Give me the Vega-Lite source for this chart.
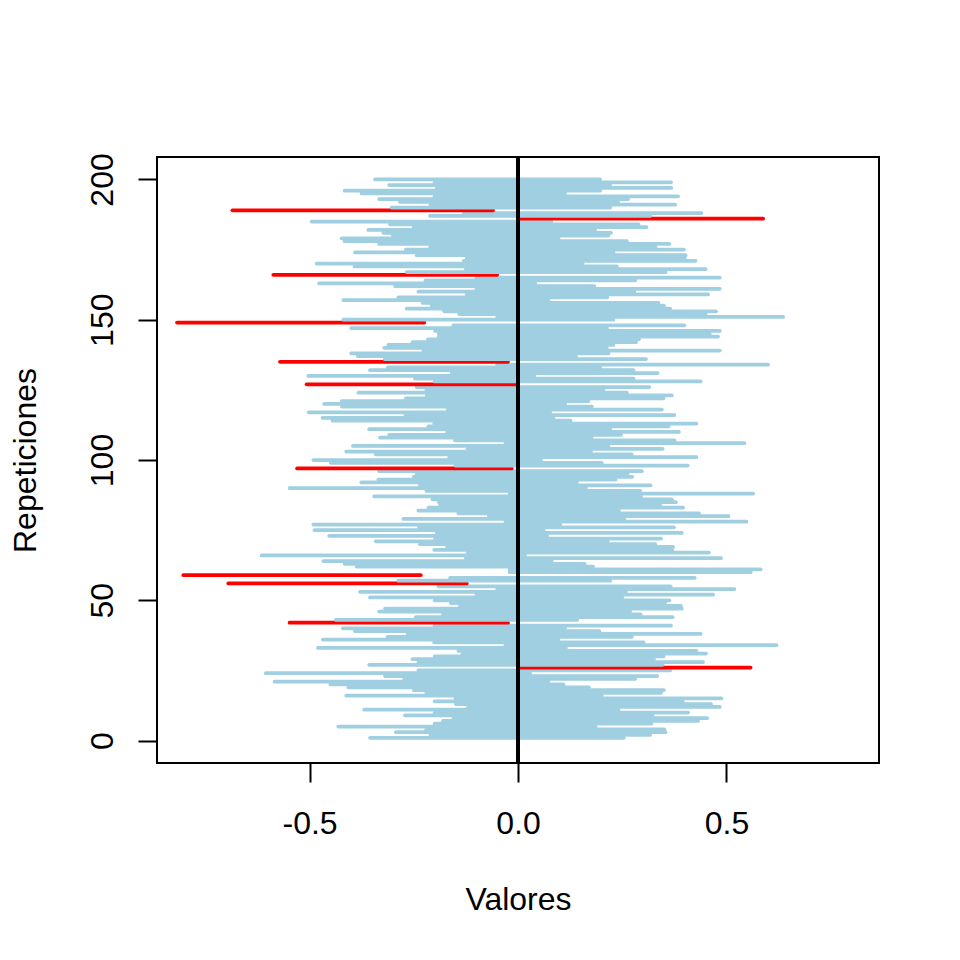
{
"$schema": "https://vega.github.io/schema/vega-lite/v6.json",
"width": 722, "height": 606,
"autosize": "none",
"padding": {"left": 157, "top": 157, "right": 81, "bottom": 197},
"background": "white",
"config": {
  "view": {"stroke": "black", "strokeWidth": 2},
  "font": "Liberation Sans",
  "axis": {"domain": false, "grid": false, "tickColor": "black", "tickWidth": 2, "tickSize": 19,
           "labelFont": "Liberation Sans", "labelFontSize": 32, "labelColor": "black",
           "titleFont": "Liberation Sans", "titleFontSize": 32, "titleFontWeight": "normal", "titleColor": "black"}
},
"data": {"values": [
{"rep":1,"inf":-0.355,"sup":0.254,"cubre":"si"},
{"rep":2,"inf":-0.21,"sup":0.317,"cubre":"si"},
{"rep":3,"inf":-0.293,"sup":0.354,"cubre":"si"},
{"rep":4,"inf":-0.22,"sup":0.351,"cubre":"si"},
{"rep":5,"inf":-0.431,"sup":0.186,"cubre":"si"},
{"rep":6,"inf":-0.2,"sup":0.32,"cubre":"si"},
{"rep":7,"inf":-0.18,"sup":0.432,"cubre":"si"},
{"rep":8,"inf":-0.155,"sup":0.454,"cubre":"si"},
{"rep":9,"inf":-0.271,"sup":0.323,"cubre":"si"},
{"rep":10,"inf":-0.2,"sup":0.408,"cubre":"si"},
{"rep":11,"inf":-0.369,"sup":0.241,"cubre":"si"},
{"rep":12,"inf":-0.12,"sup":0.484,"cubre":"si"},
{"rep":13,"inf":-0.149,"sup":0.463,"cubre":"si"},
{"rep":14,"inf":-0.2,"sup":0.395,"cubre":"si"},
{"rep":15,"inf":-0.15,"sup":0.488,"cubre":"si"},
{"rep":16,"inf":-0.412,"sup":0.201,"cubre":"si"},
{"rep":17,"inf":-0.22,"sup":0.343,"cubre":"si"},
{"rep":18,"inf":-0.25,"sup":0.35,"cubre":"si"},
{"rep":19,"inf":-0.407,"sup":0.17,"cubre":"si"},
{"rep":20,"inf":-0.45,"sup":0.109,"cubre":"si"},
{"rep":21,"inf":-0.584,"sup":0.073,"cubre":"si"},
{"rep":22,"inf":-0.273,"sup":0.281,"cubre":"si"},
{"rep":23,"inf":-0.319,"sup":0.334,"cubre":"si"},
{"rep":24,"inf":-0.605,"sup":0.029,"cubre":"si"},
{"rep":25,"inf":-0.239,"sup":0.365,"cubre":"si"},
{"rep":26,"inf":0.005,"sup":0.558,"cubre":"no"},
{"rep":27,"inf":-0.357,"sup":0.347,"cubre":"si"},
{"rep":28,"inf":-0.239,"sup":0.444,"cubre":"si"},
{"rep":29,"inf":-0.253,"sup":0.326,"cubre":"si"},
{"rep":30,"inf":-0.2,"sup":0.349,"cubre":"si"},
{"rep":31,"inf":-0.133,"sup":0.451,"cubre":"si"},
{"rep":32,"inf":-0.143,"sup":0.428,"cubre":"si"},
{"rep":33,"inf":-0.48,"sup":0.115,"cubre":"si"},
{"rep":34,"inf":-0.03,"sup":0.62,"cubre":"si"},
{"rep":35,"inf":-0.201,"sup":0.301,"cubre":"si"},
{"rep":36,"inf":-0.468,"sup":0.097,"cubre":"si"},
{"rep":37,"inf":-0.313,"sup":0.273,"cubre":"si"},
{"rep":38,"inf":-0.265,"sup":0.438,"cubre":"si"},
{"rep":39,"inf":-0.391,"sup":0.195,"cubre":"si"},
{"rep":40,"inf":-0.42,"sup":0.113,"cubre":"si"},
{"rep":41,"inf":-0.2,"sup":0.367,"cubre":"si"},
{"rep":42,"inf":-0.548,"sup":-0.024,"cubre":"no"},
{"rep":43,"inf":-0.437,"sup":0.142,"cubre":"si"},
{"rep":44,"inf":-0.245,"sup":0.371,"cubre":"si"},
{"rep":45,"inf":-0.18,"sup":0.294,"cubre":"si"},
{"rep":46,"inf":-0.333,"sup":0.269,"cubre":"si"},
{"rep":47,"inf":-0.319,"sup":0.393,"cubre":"si"},
{"rep":48,"inf":-0.139,"sup":0.391,"cubre":"si"},
{"rep":49,"inf":-0.161,"sup":0.353,"cubre":"si"},
{"rep":50,"inf":-0.2,"sup":0.363,"cubre":"si"},
{"rep":51,"inf":-0.355,"sup":0.25,"cubre":"si"},
{"rep":52,"inf":-0.1,"sup":0.468,"cubre":"si"},
{"rep":53,"inf":-0.379,"sup":0.259,"cubre":"si"},
{"rep":54,"inf":-0.05,"sup":0.519,"cubre":"si"},
{"rep":55,"inf":-0.191,"sup":0.366,"cubre":"si"},
{"rep":56,"inf":-0.695,"sup":-0.123,"cubre":"no"},
{"rep":57,"inf":-0.287,"sup":0.221,"cubre":"si"},
{"rep":58,"inf":-0.163,"sup":0.424,"cubre":"si"},
{"rep":59,"inf":-0.803,"sup":-0.233,"cubre":"no"},
{"rep":60,"inf":-0.02,"sup":0.558,"cubre":"si"},
{"rep":61,"inf":-0.02,"sup":0.582,"cubre":"si"},
{"rep":62,"inf":-0.387,"sup":0.18,"cubre":"si"},
{"rep":63,"inf":-0.416,"sup":0.16,"cubre":"si"},
{"rep":64,"inf":-0.467,"sup":0.081,"cubre":"si"},
{"rep":65,"inf":-0.125,"sup":0.487,"cubre":"si"},
{"rep":66,"inf":-0.615,"sup":0.017,"cubre":"si"},
{"rep":67,"inf":-0.12,"sup":0.458,"cubre":"si"},
{"rep":68,"inf":-0.201,"sup":0.37,"cubre":"si"},
{"rep":69,"inf":-0.17,"sup":0.372,"cubre":"si"},
{"rep":70,"inf":-0.235,"sup":0.329,"cubre":"si"},
{"rep":71,"inf":-0.341,"sup":0.215,"cubre":"si"},
{"rep":72,"inf":-0.199,"sup":0.343,"cubre":"si"},
{"rep":73,"inf":-0.453,"sup":0.07,"cubre":"si"},
{"rep":74,"inf":-0.195,"sup":0.393,"cubre":"si"},
{"rep":75,"inf":-0.488,"sup":0.061,"cubre":"si"},
{"rep":76,"inf":-0.237,"sup":0.374,"cubre":"si"},
{"rep":77,"inf":-0.491,"sup":0.101,"cubre":"si"},
{"rep":78,"inf":-0.03,"sup":0.548,"cubre":"si"},
{"rep":79,"inf":-0.275,"sup":0.255,"cubre":"si"},
{"rep":80,"inf":-0.07,"sup":0.505,"cubre":"si"},
{"rep":81,"inf":-0.143,"sup":0.434,"cubre":"si"},
{"rep":82,"inf":-0.239,"sup":0.242,"cubre":"si"},
{"rep":83,"inf":-0.215,"sup":0.396,"cubre":"si"},
{"rep":84,"inf":-0.187,"sup":0.341,"cubre":"si"},
{"rep":85,"inf":-0.19,"sup":0.379,"cubre":"si"},
{"rep":86,"inf":-0.205,"sup":0.369,"cubre":"si"},
{"rep":87,"inf":-0.345,"sup":0.295,"cubre":"si"},
{"rep":88,"inf":-0.02,"sup":0.564,"cubre":"si"},
{"rep":89,"inf":-0.22,"sup":0.293,"cubre":"si"},
{"rep":90,"inf":-0.548,"sup":0.163,"cubre":"si"},
{"rep":91,"inf":-0.235,"sup":0.318,"cubre":"si"},
{"rep":92,"inf":-0.376,"sup":0.141,"cubre":"si"},
{"rep":93,"inf":-0.335,"sup":0.234,"cubre":"si"},
{"rep":94,"inf":-0.25,"sup":0.274,"cubre":"si"},
{"rep":95,"inf":-0.243,"sup":0.263,"cubre":"si"},
{"rep":96,"inf":-0.333,"sup":0.297,"cubre":"si"},
{"rep":97,"inf":-0.53,"sup":-0.015,"cubre":"no"},
{"rep":98,"inf":-0.15,"sup":0.407,"cubre":"si"},
{"rep":99,"inf":-0.449,"sup":0.201,"cubre":"si"},
{"rep":100,"inf":-0.491,"sup":0.055,"cubre":"si"},
{"rep":101,"inf":-0.165,"sup":0.428,"cubre":"si"},
{"rep":102,"inf":-0.341,"sup":0.273,"cubre":"si"},
{"rep":103,"inf":-0.412,"sup":0.175,"cubre":"si"},
{"rep":104,"inf":-0.121,"sup":0.347,"cubre":"si"},
{"rep":105,"inf":-0.396,"sup":0.217,"cubre":"si"},
{"rep":106,"inf":-0.03,"sup":0.543,"cubre":"si"},
{"rep":107,"inf":-0.151,"sup":0.375,"cubre":"si"},
{"rep":108,"inf":-0.331,"sup":0.177,"cubre":"si"},
{"rep":109,"inf":-0.309,"sup":0.247,"cubre":"si"},
{"rep":110,"inf":-0.17,"sup":0.386,"cubre":"si"},
{"rep":111,"inf":-0.357,"sup":0.221,"cubre":"si"},
{"rep":112,"inf":-0.215,"sup":0.361,"cubre":"si"},
{"rep":113,"inf":-0.201,"sup":0.428,"cubre":"si"},
{"rep":114,"inf":-0.445,"sup":0.126,"cubre":"si"},
{"rep":115,"inf":-0.469,"sup":0.085,"cubre":"si"},
{"rep":116,"inf":-0.27,"sup":0.375,"cubre":"si"},
{"rep":117,"inf":-0.502,"sup":0.077,"cubre":"si"},
{"rep":118,"inf":-0.169,"sup":0.345,"cubre":"si"},
{"rep":119,"inf":-0.422,"sup":0.177,"cubre":"si"},
{"rep":120,"inf":-0.465,"sup":0.113,"cubre":"si"},
{"rep":121,"inf":-0.423,"sup":0.169,"cubre":"si"},
{"rep":122,"inf":-0.269,"sup":0.349,"cubre":"si"},
{"rep":123,"inf":-0.219,"sup":0.369,"cubre":"si"},
{"rep":124,"inf":-0.383,"sup":0.261,"cubre":"si"},
{"rep":125,"inf":-0.22,"sup":0.205,"cubre":"si"},
{"rep":126,"inf":-0.243,"sup":0.315,"cubre":"si"},
{"rep":127,"inf":-0.507,"sup":-0.003,"cubre":"no"},
{"rep":128,"inf":-0.2,"sup":0.438,"cubre":"si"},
{"rep":129,"inf":-0.247,"sup":0.277,"cubre":"si"},
{"rep":130,"inf":-0.503,"sup":0.039,"cubre":"si"},
{"rep":131,"inf":-0.159,"sup":0.335,"cubre":"si"},
{"rep":132,"inf":-0.355,"sup":0.277,"cubre":"si"},
{"rep":133,"inf":-0.312,"sup":0.197,"cubre":"si"},
{"rep":134,"inf":-0.05,"sup":0.6,"cubre":"si"},
{"rep":135,"inf":-0.571,"sup":-0.024,"cubre":"no"},
{"rep":136,"inf":-0.32,"sup":0.307,"cubre":"si"},
{"rep":137,"inf":-0.384,"sup":0.139,"cubre":"si"},
{"rep":138,"inf":-0.4,"sup":0.217,"cubre":"si"},
{"rep":139,"inf":-0.227,"sup":0.484,"cubre":"si"},
{"rep":140,"inf":-0.321,"sup":0.213,"cubre":"si"},
{"rep":141,"inf":-0.311,"sup":0.229,"cubre":"si"},
{"rep":142,"inf":-0.253,"sup":0.283,"cubre":"si"},
{"rep":143,"inf":-0.216,"sup":0.29,"cubre":"si"},
{"rep":144,"inf":-0.19,"sup":0.48,"cubre":"si"},
{"rep":145,"inf":-0.19,"sup":0.46,"cubre":"si"},
{"rep":146,"inf":-0.199,"sup":0.484,"cubre":"si"},
{"rep":147,"inf":-0.4,"sup":0.213,"cubre":"si"},
{"rep":148,"inf":-0.155,"sup":0.399,"cubre":"si"},
{"rep":149,"inf":-0.818,"sup":-0.225,"cubre":"no"},
{"rep":150,"inf":-0.419,"sup":0.229,"cubre":"si"},
{"rep":151,"inf":-0.05,"sup":0.636,"cubre":"si"},
{"rep":152,"inf":-0.141,"sup":0.45,"cubre":"si"},
{"rep":153,"inf":-0.177,"sup":0.475,"cubre":"si"},
{"rep":154,"inf":-0.267,"sup":0.365,"cubre":"si"},
{"rep":155,"inf":-0.207,"sup":0.35,"cubre":"si"},
{"rep":156,"inf":-0.229,"sup":0.337,"cubre":"si"},
{"rep":157,"inf":-0.419,"sup":0.073,"cubre":"si"},
{"rep":158,"inf":-0.287,"sup":0.214,"cubre":"si"},
{"rep":159,"inf":-0.123,"sup":0.456,"cubre":"si"},
{"rep":160,"inf":-0.239,"sup":0.279,"cubre":"si"},
{"rep":161,"inf":-0.1,"sup":0.484,"cubre":"si"},
{"rep":162,"inf":-0.295,"sup":0.183,"cubre":"si"},
{"rep":163,"inf":-0.477,"sup":0.041,"cubre":"si"},
{"rep":164,"inf":-0.222,"sup":0.281,"cubre":"si"},
{"rep":165,"inf":-0.1,"sup":0.484,"cubre":"si"},
{"rep":166,"inf":-0.587,"sup":-0.05,"cubre":"no"},
{"rep":167,"inf":-0.267,"sup":0.354,"cubre":"si"},
{"rep":168,"inf":-0.125,"sup":0.45,"cubre":"si"},
{"rep":169,"inf":-0.392,"sup":0.237,"cubre":"si"},
{"rep":170,"inf":-0.483,"sup":0.155,"cubre":"si"},
{"rep":171,"inf":-0.13,"sup":0.426,"cubre":"si"},
{"rep":172,"inf":-0.123,"sup":0.4,"cubre":"si"},
{"rep":173,"inf":-0.243,"sup":0.402,"cubre":"si"},
{"rep":174,"inf":-0.391,"sup":0.229,"cubre":"si"},
{"rep":175,"inf":-0.269,"sup":0.398,"cubre":"si"},
{"rep":176,"inf":-0.211,"sup":0.33,"cubre":"si"},
{"rep":177,"inf":-0.333,"sup":0.363,"cubre":"si"},
{"rep":178,"inf":-0.416,"sup":0.261,"cubre":"si"},
{"rep":179,"inf":-0.423,"sup":0.097,"cubre":"si"},
{"rep":180,"inf":-0.3,"sup":0.217,"cubre":"si"},
{"rep":181,"inf":-0.323,"sup":0.223,"cubre":"si"},
{"rep":182,"inf":-0.359,"sup":0.185,"cubre":"si"},
{"rep":183,"inf":-0.25,"sup":0.308,"cubre":"si"},
{"rep":184,"inf":-0.307,"sup":0.289,"cubre":"si"},
{"rep":185,"inf":-0.495,"sup":0.08,"cubre":"si"},
{"rep":186,"inf":0.005,"sup":0.588,"cubre":"no"},
{"rep":187,"inf":-0.211,"sup":0.317,"cubre":"si"},
{"rep":188,"inf":-0.13,"sup":0.44,"cubre":"si"},
{"rep":189,"inf":-0.685,"sup":-0.06,"cubre":"no"},
{"rep":190,"inf":-0.303,"sup":0.221,"cubre":"si"},
{"rep":191,"inf":-0.21,"sup":0.377,"cubre":"si"},
{"rep":192,"inf":-0.283,"sup":0.24,"cubre":"si"},
{"rep":193,"inf":-0.333,"sup":0.264,"cubre":"si"},
{"rep":194,"inf":-0.2,"sup":0.384,"cubre":"si"},
{"rep":195,"inf":-0.375,"sup":0.113,"cubre":"si"},
{"rep":196,"inf":-0.416,"sup":0.197,"cubre":"si"},
{"rep":197,"inf":-0.195,"sup":0.368,"cubre":"si"},
{"rep":198,"inf":-0.309,"sup":0.221,"cubre":"si"},
{"rep":199,"inf":-0.2,"sup":0.367,"cubre":"si"},
{"rep":200,"inf":-0.343,"sup":0.197,"cubre":"si"}
]},
"layer": [
  {
    "mark": {"type": "rule", "strokeWidth": 3.75, "strokeCap": "round"},
    "encoding": {
      "x": {"field": "inf", "type": "quantitative",
            "scale": {"domain": [-0.866, 0.866], "nice": false, "zero": false},
            "axis": {"values": [-0.5, 0, 0.5],
                     "labelExpr": "datum.value < 0 ? '-' + format(-datum.value, '.1f') : format(datum.value, '.1f')",
                     "labelBaseline": "alphabetic", "labelPadding": 51, "labelFlush": false,
                     "title": "Valores", "titleX": 361, "titleY": 146, "titleBaseline": "alphabetic", "titleAlign": "center", "titleAnchor": null}},
      "x2": {"field": "sup"},
      "y": {"field": "rep", "type": "quantitative",
            "scale": {"domain": [-8, 208], "nice": false, "zero": false},
            "axis": {"values": [0, 50, 100, 150, 200], "labelAngle": -90, "labelAlign": "center",
                     "labelBaseline": "alphabetic", "labelPadding": 26, "labelFlush": false,
                     "title": "Repeticiones", "titleAngle": -90, "titleX": -122, "titleY": 303,
                     "titleBaseline": "alphabetic", "titleAlign": "center", "titleAnchor": null}},
      "color": {"field": "cubre", "type": "nominal",
                "scale": {"domain": ["si", "no"], "range": ["#9FCFE0", "#FF0000"]}, "legend": null}
    }
  },
  {
    "data": {"values": [{"v": 0}]},
    "mark": {"type": "rule", "color": "black", "strokeWidth": 4},
    "encoding": {"x": {"field": "v", "type": "quantitative"}}
  }
]
}
